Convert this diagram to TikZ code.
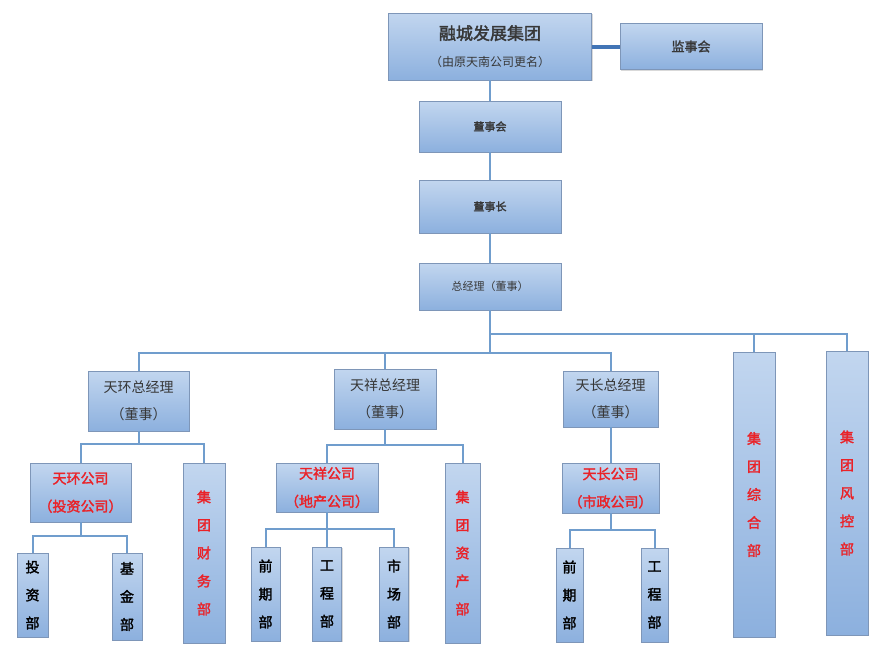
\documentclass[tikz,border=0pt]{standalone}
\usepackage{fontspec}
\newfontfamily\cjk[AutoFakeBold=2]{Noto Sans CJK SC}
\usepackage{xcolor}
\usetikzlibrary{shadows,positioning}
\definecolor{boxtop}{RGB}{194,214,239}
\definecolor{boxbot}{RGB}{140,176,222}
\definecolor{boxline}{RGB}{126,150,184}
\definecolor{linkcol}{RGB}{112,157,205}
\definecolor{deeplink}{RGB}{66,117,182}
\definecolor{redtext}{RGB}{234,34,40}
\definecolor{graytext}{RGB}{55,55,55}

\begin{document}
\begin{tikzpicture}[x=1pt,y=-1pt]
    \tikzstyle{box}=[rectangle,draw=boxline,line width=0.8pt,top color=boxtop,bottom color=boxbot,
        drop shadow={shadow xshift=1.2pt,shadow yshift=-1.2pt,opacity=0.3},
        inner sep=0pt,align=center,text=graytext,font=\cjk\fontsize{14}{27}\selectfont]
    \tikzstyle{small box}=[box,font=\cjk\fontsize{11}{27}\selectfont]
    \tikzstyle{company}=[box,text=redtext,font=\cjk\bfseries\fontsize{14}{28}\selectfont]
    \tikzstyle{dept}=[box,text=black,font=\cjk\bfseries\fontsize{14}{28}\selectfont]
    \tikzstyle{red dept}=[dept,text=redtext]
    \tikzstyle{link}=[draw=linkcol,line width=2pt]
    \tikzstyle{deep link}=[draw=deeplink,line width=4pt]

    \useasboundingbox (0,0) rectangle (888,667);

    % Group board chain
    \node[box,minimum width=203pt,minimum height=67pt,font=\cjk\fontsize{12}{27}\selectfont] (rc) at (490,46.5)
        {{\fontsize{17}{27}\selectfont\bfseries 融城发展集团}\\（由原天南公司更名）};
    \node[small box,minimum width=142pt,minimum height=46pt,font=\cjk\bfseries\fontsize{13}{27}\selectfont] (jsh) at (691,46.5) {监事会};
    \node[small box,minimum width=142pt,minimum height=51pt,font=\cjk\bfseries\fontsize{11}{27}\selectfont] (dsh) at (490,126.5) {董事会};
    \node[small box,minimum width=142pt,minimum height=53pt,font=\cjk\bfseries\fontsize{11}{27}\selectfont] (dsz) at (490,206.5) {董事长};
    \node[small box,minimum width=142pt,minimum height=47pt] (zjl) at (490,286.5) {总经理（董事）};

    \draw[deep link] (rc.east) -- (jsh.west);
    \draw[link] (rc) -- (dsh);
    \draw[link] (dsh) -- (dsz);
    \draw[link] (dsz) -- (zjl);

    % General managers and group departments
    \node[box,minimum width=101pt,minimum height=60pt] (th) at (138.5,401) {天环总经理\\（董事）};
    \node[box,minimum width=102pt,minimum height=60pt] (tx) at (385,399) {天祥总经理\\（董事）};
    \node[box,minimum width=95pt,minimum height=56pt] (tc) at (610.5,399) {天长总经理\\（董事）};
    \node[red dept,minimum width=42pt,minimum height=285pt] (zh) at (754,494.5) {集\\团\\综\\合\\部};
    \node[red dept,minimum width=42pt,minimum height=284pt] (fk) at (847,493) {集\\团\\风\\控\\部};

    \coordinate (bus0) at (490,334);
    \coordinate (bus1) at (490,353);
    \draw[link] (zjl.south) -- (bus1);
    \draw[link] (bus0) -| (zh.north);
    \draw[link] (bus0) -| (fk.north);
    \draw[link] (bus1) -| (th.north);
    \draw[link] (bus1) -| (tx.north);
    \draw[link] (bus1) -| (tc.north);

    % Companies
    \node[company,minimum width=101pt,minimum height=59pt] (thgs) at (80.5,492.5) {天环公司\\（投资公司）};
    \node[red dept,minimum width=42pt,minimum height=180pt] (cw) at (204,553) {集\\团\\财\\务\\部};
    \node[company,minimum width=102pt,minimum height=49pt] (txgs) at (327,487.5) {天祥公司\\（地产公司）};
    \node[red dept,minimum width=35pt,minimum height=180pt] (zc) at (462.5,553) {集\\团\\资\\产\\部};
    \node[company,minimum width=97pt,minimum height=50pt] (tcgs) at (610.5,488) {天长公司\\（市政公司）};

    \coordinate (th-bus) at (138.5,444);
    \coordinate (tx-bus) at (385,445);
    \draw[link] (th.south) -- (th-bus);
    \draw[link] (th-bus) -| (thgs.north);
    \draw[link] (th-bus) -| (cw.north);
    \draw[link] (tx.south) -- (tx-bus);
    \draw[link] (tx-bus) -| (txgs.north);
    \draw[link] (tx-bus) -| (zc.north);
    \draw[link] (tc) -- (tcgs);

    % Departments
    \node[dept,minimum width=31pt,minimum height=84pt] (tz) at (32.5,595) {投\\资\\部};
    \node[dept,minimum width=30pt,minimum height=87pt] (jj) at (127,596.5) {基\\金\\部};
    \foreach \name/\x/\txt in {qq1/265.5/{前\\期\\部},gc1/327/{工\\程\\部},sc/394/{市\\场\\部}}
        \node[dept,minimum width=29pt,minimum height=94pt] (\name) at (\x,594) {\txt};
    \foreach \name/\x/\txt in {qq2/569.5/{前\\期\\部},gc2/654.5/{工\\程\\部}}
        \node[dept,minimum width=27pt,minimum height=94pt] (\name) at (\x,595) {\txt};

    \coordinate (thgs-bus) at (80.5,536);
    \coordinate (txgs-bus) at (327,529);
    \coordinate (tcgs-bus) at (610.5,530);
    \draw[link] (thgs.south) -- (thgs-bus);
    \draw[link] (txgs.south) -- (txgs-bus);
    \draw[link] (tcgs.south) -- (tcgs-bus);
    \foreach \dest in {tz,jj}
        \draw[link] (thgs-bus) -| (\dest.north);
    \foreach \dest in {qq1,gc1,sc}
        \draw[link] (txgs-bus) -| (\dest.north);
    \foreach \dest in {qq2,gc2}
        \draw[link] (tcgs-bus) -| (\dest.north);

\end{tikzpicture}
\end{document}
